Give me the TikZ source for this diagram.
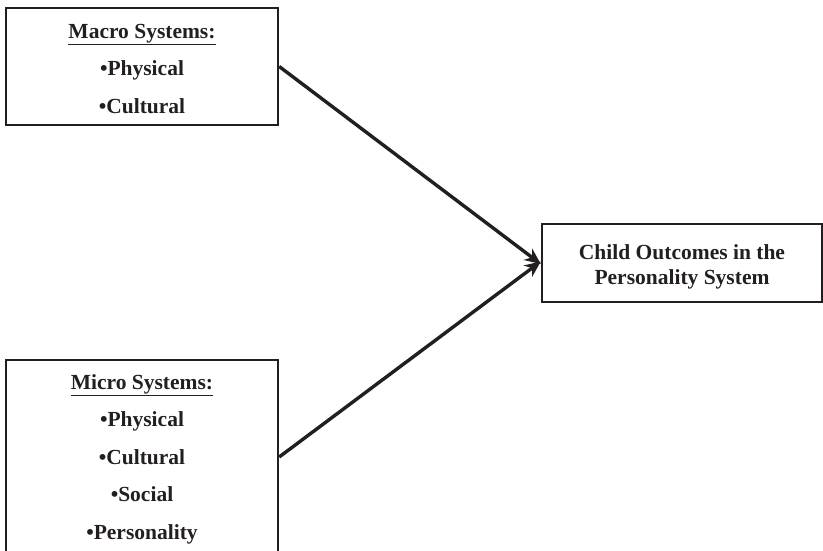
\documentclass[tikz,border=0pt]{standalone}
\usepackage{fontspec}
\setmainfont{Liberation Serif}
\usetikzlibrary{arrows.meta}
\definecolor{ink}{HTML}{231F20}
% invisible prop that lowers the text block inside its frame
\newcommand{\toppad}[1]{\rule{0pt}{#1}}
\begin{document}
\begin{tikzpicture}[x=1pt,y=-1pt,
  sysbox/.style={draw=ink,line width=2.4pt,rectangle,inner sep=0pt,align=center,
    font=\fontsize{21.5}{37.5}\selectfont\bfseries,text=ink},
  outbox/.style={draw=ink,line width=2.4pt,rectangle,inner sep=0pt,align=center,
    font=\fontsize{21.5}{25}\selectfont\bfseries,text=ink},
  link/.style={draw=ink,line width=3.4pt,-{Stealth[length=16pt,width=14pt,inset=5pt]}}]
\useasboundingbox (0,0) rectangle (823,550);
\clip (0,0) rectangle (823,550);
% source boxes on the left
\node[sysbox,minimum width=272,minimum height=117] (macro) at (142,66.5)
  {\toppad{19pt}\underline{Macro Systems:}\\•Physical\\•Cultural};
\node[sysbox,minimum width=272,minimum height=194] (micro) at (142,457)
  {\toppad{19pt}\underline{Micro Systems:}\\•Physical\\•Cultural\\•Social\\•Personality};
% outcome box on the right
\node[outbox,minimum width=280,minimum height=78] (child) at (682,263)
  {\toppad{22.5pt}Child Outcomes in the\\Personality System};
% influences
\draw[link] (macro.east) -- ([yshift=-1]child.west);
\draw[link] (micro.east) -- ([yshift=1.5]child.west);
\end{tikzpicture}
\end{document}
